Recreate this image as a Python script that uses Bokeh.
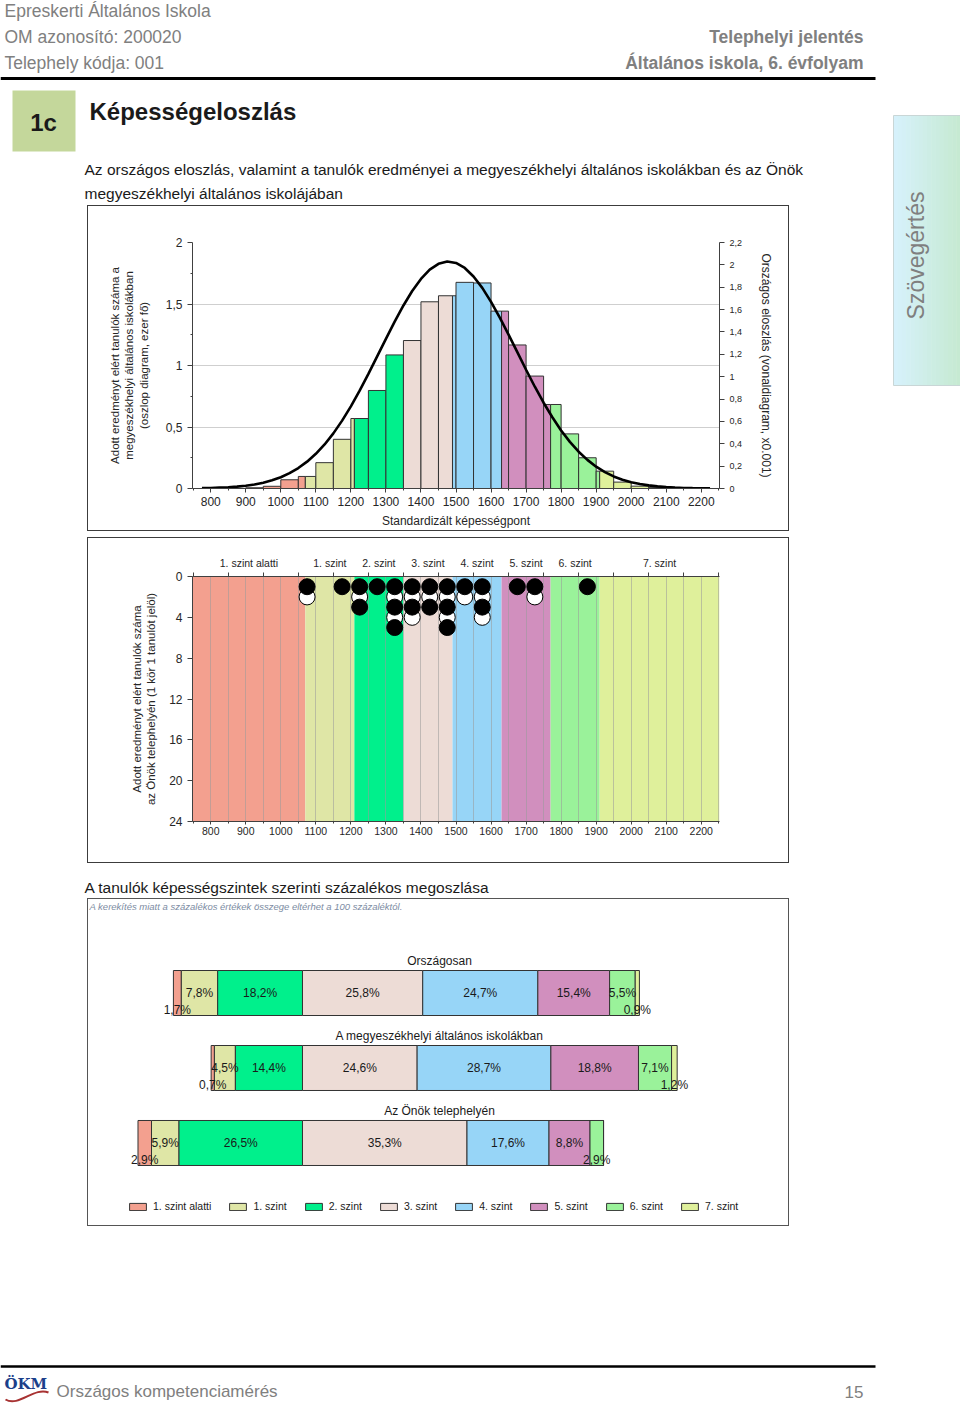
from bokeh.plotting import figure
from bokeh.layouts import row, column
from bokeh.models import (Range1d, LinearAxis, FixedTicker, CustomJSTickFormatter,
                          Spacer, Legend, LegendItem, Label)
from bokeh.core.properties import value
from bokeh.embed import file_html
from bokeh.resources import INLINE

FONT = "Liberation Sans"
INK = "#262626"
GREY_TXT = "#808080"

# ---------------- data ----------------
LEVEL_NAMES = ["1. szint alatti", "1. szint", "2. szint", "3. szint",
               "4. szint", "5. szint", "6. szint", "7. szint"]
LEVEL_COLORS = ["#F3A08F", "#DFE6A6", "#00F08C", "#EDDCD6",
                "#97D5F7", "#D18FBE", "#9AF29A", "#DFF09B"]
LEVEL_CUTS = [1070, 1210, 1350, 1490, 1630, 1770, 1910]

HIST_BIN_LEFT = [900, 950, 1000, 1050, 1100, 1150, 1200, 1250, 1300, 1350,
                 1400, 1450, 1500, 1550, 1600, 1650, 1700, 1750, 1800, 1850,
                 1900, 1950, 2000, 2050, 2100, 2150]
HIST_HEIGHT = [0.006, 0.018, 0.071, 0.098, 0.210, 0.400, 0.569, 0.797, 1.086, 1.203,
               1.518, 1.567, 1.676, 1.671, 1.442, 1.167, 0.914, 0.683, 0.444, 0.250,
               0.141, 0.052, 0.019, 0.007, 0.003, 0.001]
HIST_BIN_WIDTH = 50

CURVE_X = list(range(775, 2226, 25))
CURVE_Y = [0.003, 0.005, 0.008, 0.011, 0.017, 0.025, 0.036, 0.052, 0.073, 0.101,
           0.137, 0.183, 0.240, 0.310, 0.394, 0.493, 0.607, 0.735, 0.875, 1.025,
           1.181, 1.338, 1.492, 1.637, 1.766, 1.874, 1.957, 2.009, 2.030, 2.017,
           1.972, 1.896, 1.794, 1.669, 1.528, 1.376, 1.219, 1.062, 0.910, 0.767,
           0.637, 0.519, 0.417, 0.329, 0.256, 0.195, 0.147, 0.108, 0.079, 0.056,
           0.040, 0.028, 0.019, 0.013, 0.008, 0.005, 0.003, 0.002, 0.001]

LEFT_TICKS = [0, 0.5, 1, 1.5, 2]
RIGHT_TICKS = [0, 0.2, 0.4, 0.6, 0.8, 1.0, 1.2, 1.4, 1.6, 1.8, 2.0, 2.2]
X_TICKS = [800, 900, 1000, 1100, 1200, 1300, 1400, 1500, 1600, 1700, 1800, 1900, 2000, 2100, 2200]
X_MINOR = [750, 850, 950, 1050, 1150, 1250, 1350, 1450, 1550, 1650, 1750, 1850, 1950, 2050, 2150, 2250]

DOT_COL = [1075, 1175, 1225, 1275, 1325, 1375, 1425, 1475, 1525, 1575, 1675, 1725, 1875]
DOT_COUNT = [2, 1, 3, 1, 5, 4, 3, 5, 2, 4, 1, 2, 1]
DOT_Y_TICKS = [0, 4, 8, 12, 16, 20, 24]

GROUP_TITLES = ["Országosan", "A megyeszékhelyi általános iskolákban", "Az Önök telephelyén"]
PCT_ORSZAGOS = [1.7, 7.8, 18.2, 25.8, 24.7, 15.4, 5.5, 0.9]
PCT_MEGYE = [0.7, 4.5, 14.4, 24.6, 28.7, 18.8, 7.1, 1.2]
PCT_ONOK = [2.9, 5.9, 26.5, 35.3, 17.6, 8.8, 2.9, 0.0]

X_RANGE = (748, 2252)


# ---------------- helpers ----------------
def put_text(p, x, y, s, size, color=INK, style="normal", align="left",
             baseline="middle", angle=0, font=FONT):
    p.text(x=[x], y=[y], text=[s], text_font=value(font), text_font_size=size,
           text_font_style=style, text_color=color, text_align=align,
           text_baseline=baseline, angle=angle)


def canvas(w, h, x0, x1, y0, y1):
    p = figure(width=w, height=h, x_range=Range1d(x0, x1), y_range=Range1d(y1, y0),
               x_axis_type=None, y_axis_type=None, min_border=0,
               output_backend="svg", toolbar_location=None)
    p.outline_line_color = None
    p.xgrid.visible = False
    p.ygrid.visible = False
    return p


def style_axis(ax, size="12px"):
    ax.major_label_text_font = FONT
    ax.major_label_text_font_size = size
    ax.major_label_text_color = INK
    ax.axis_label_text_font = FONT
    ax.axis_label_text_font_style = "normal"
    ax.axis_label_text_font_size = "12px"
    ax.axis_label_text_color = INK
    ax.axis_line_color = "#404040"
    ax.major_tick_line_color = "#404040"
    ax.minor_tick_line_color = "#404040"
    ax.major_tick_in = 0
    ax.minor_tick_in = 0
    ax.major_tick_out = 4
    ax.minor_tick_out = 2


comma_fmt = CustomJSTickFormatter(code="return String(Math.round(tick*10)/10).replace('.', ',');")

# ---------------- header ----------------
ph = canvas(888, 205, 0, 888, 0, 205)
put_text(ph, 4, 10, "Epreskerti Általános Iskola", "17.5px", GREY_TXT)
put_text(ph, 4, 36, "OM azonosító: 200020", "17.5px", GREY_TXT)
put_text(ph, 4, 62, "Telephely kódja: 001", "17.5px", GREY_TXT)
put_text(ph, 863, 36, "Telephelyi jelentés", "17.5px", GREY_TXT, style="bold", align="right")
put_text(ph, 863, 62, "Általános iskola, 6. évfolyam", "17.5px", GREY_TXT, style="bold", align="right")
ph.segment(x0=[0], y0=[78], x1=[875], y1=[78], line_color="black", line_width=3)
ph.quad(left=[12], right=[75], top=[90], bottom=[151], fill_color="#C4D79B", line_color=None)
put_text(ph, 43, 122, "1c", "24px", "#1a1a1a", style="bold", align="center")
put_text(ph, 89, 111, "Képességeloszlás", "24px", "#1a1a1a", style="bold")
put_text(ph, 84, 169, "Az országos eloszlás, valamint a tanulók eredményei a megyeszékhelyi általános iskolákban és az Önök",
         "15.5px", "#1a1a1a")
put_text(ph, 84, 193, "megyeszékhelyi általános iskolájában", "15.5px", "#1a1a1a")

# ---------------- chart 1: histogram + curve ----------------
p1 = figure(width=702, height=326, x_range=Range1d(*X_RANGE), y_range=Range1d(0, 2),
            output_backend="svg", toolbar_location=None,
            min_border_left=104, min_border_right=71, min_border_top=36, min_border_bottom=44)
p1.styles = {"border": "1px solid #3c3c3c"}
p1.outline_line_color = None
p1.extra_y_ranges = {"curve": Range1d(0, 2.2)}

seg_l, seg_r, seg_t, seg_c = [], [], [], []
for a, h in zip(HIST_BIN_LEFT, HIST_HEIGHT):
    b = a + HIST_BIN_WIDTH
    edges = [a] + [c for c in LEVEL_CUTS if a < c < b] + [b]
    for l, r in zip(edges[:-1], edges[1:]):
        lvl = sum(1 for c in LEVEL_CUTS if c <= l)
        seg_l.append(l)
        seg_r.append(r)
        seg_t.append(h)
        seg_c.append(LEVEL_COLORS[lvl])
p1.quad(left=seg_l, right=seg_r, bottom=0, top=seg_t, fill_color=seg_c,
        line_color="#333333", line_width=1)
p1.line(CURVE_X, CURVE_Y, y_range_name="curve", line_color="black", line_width=2.6)

p1.xgrid.visible = False
p1.ygrid.ticker = FixedTicker(ticks=LEFT_TICKS)
p1.ygrid.grid_line_color = "#cfcfcf"

xa = p1.xaxis[0]
xa.ticker = FixedTicker(ticks=X_TICKS, minor_ticks=X_MINOR)
xa.axis_label = "Standardizált képességpont"
style_axis(xa, "12px")
xa.major_label_standoff = 4
xa.axis_label_standoff = 5

ya = p1.yaxis[0]
ya.ticker = FixedTicker(ticks=LEFT_TICKS, minor_ticks=[0.25, 0.75, 1.25, 1.75])
ya.formatter = comma_fmt
ya.axis_label = "Adott eredményt elért tanulók száma a\nmegyeszékhelyi általános iskolákban\n(oszlop diagram, ezer fő)"
style_axis(ya, "12px")
ya.axis_label_text_font_size = "11.5px"
ya.axis_label_standoff = 13
ya.major_tick_out = 5

ra = LinearAxis(y_range_name="curve", ticker=FixedTicker(ticks=RIGHT_TICKS), formatter=comma_fmt,
                axis_label="Országos eloszlás (vonaldiagram, x0.001)")
style_axis(ra, "9px")
ra.major_tick_out = 5
ra.axis_label_standoff = 14
p1.add_layout(ra, "right")

# ---------------- chart 2: dots ----------------
p2 = figure(width=702, height=326, x_range=Range1d(*X_RANGE), y_range=Range1d(24, 0),
            output_backend="svg", toolbar_location=None,
            min_border_left=104, min_border_right=71, min_border_top=38, min_border_bottom=43)
p2.styles = {"border": "1px solid #3c3c3c"}
p2.outline_line_color = None

band_edges = [X_RANGE[0]] + LEVEL_CUTS + [X_RANGE[1]]
p2.quad(left=band_edges[:-1], right=band_edges[1:], bottom=24, top=0,
        fill_color=LEVEL_COLORS, line_color=None, level="image")
p2.xgrid.ticker = FixedTicker(ticks=list(range(800, 2251, 50)))
p2.xgrid.grid_line_color = "#9a9a9a"
p2.xgrid.grid_line_alpha = 0.55
p2.ygrid.visible = False

wx, wy, bx, by = [], [], [], []
for col, n in zip(DOT_COL, DOT_COUNT):
    for k in range(1, n + 1):
        if k % 2 == 1:
            bx.append(col); by.append(k)
        else:
            wx.append(col); wy.append(k)
p2.scatter(wx, wy, size=16, fill_color="white", line_color="black", line_width=1)
p2.scatter(bx, by, size=16, fill_color="black", line_color="black", line_width=1)

xa2 = p2.xaxis[0]
xa2.ticker = FixedTicker(ticks=X_TICKS, minor_ticks=X_MINOR)
style_axis(xa2, "10.5px")
xa2.major_label_standoff = 2
xa2.major_tick_out = 3

ya2 = p2.yaxis[0]
ya2.ticker = FixedTicker(ticks=DOT_Y_TICKS)
ya2.axis_label = "Adott eredményt elért tanulók száma\naz Önök telephelyén (1 kör 1 tanulót jelöl)"
style_axis(ya2, "12px")
ya2.axis_label_text_font_size = "11.5px"
ya2.axis_label_standoff = 9
ya2.major_tick_out = 5

centers = [(lo + hi) / 2 for lo, hi in zip(band_edges[:-1], band_edges[1:])]
top_fmt = CustomJSTickFormatter(args=dict(centers=centers, names=LEVEL_NAMES), code="""
for (let i = 0; i < centers.length; i++) { if (Math.abs(centers[i] - tick) < 0.01) return names[i]; }
return "";
""")
ta = LinearAxis(ticker=FixedTicker(ticks=centers, minor_ticks=X_MINOR), formatter=top_fmt)
style_axis(ta, "10.5px")
ta.major_tick_out = 0
ta.minor_tick_out = 4
ta.major_label_standoff = 4
p2.add_layout(ta, "above")

# ---------------- text between ----------------
pt = canvas(888, 35, 0, 888, 863, 898)
put_text(pt, 84, 887, "A tanulók képességszintek szerinti százalékos megoszlása", "15.5px", "#1a1a1a")

# ---------------- chart 3: stacked bars ----------------
p3 = figure(width=702, height=328, x_range=Range1d(-45.92, 104.72), y_range=Range1d(3.1267, -1.2467),
            x_axis_type=None, y_axis_type=None, min_border=0,
            output_backend="svg", toolbar_location=None)
p3.styles = {"border": "1px solid #555555"}
p3.outline_line_color = None
p3.xgrid.visible = False
p3.ygrid.visible = False

groups = [PCT_ORSZAGOS, PCT_MEGYE, PCT_ONOK]
starts = [-sum(g[:3]) for g in groups]
lefts = [[starts[i] + sum(g[:j]) for i, g in enumerate(groups)] for j in range(8)]
rights = [[lefts[j][i] + g[j] for i, g in enumerate(groups)] for j in range(8)]
ys = [0, 1, 2]
items = []
for j in range(8):
    r = p3.hbar(y=ys, left=lefts[j], right=rights[j], height=0.6, fill_color=LEVEL_COLORS[j],
                line_color="#333333", line_width=1)
    items.append(LegendItem(label=LEVEL_NAMES[j], renderers=[r]))

lx, ly, lt = [], [], []
for j in range(8):
    for i, g in enumerate(groups):
        v = g[j]
        if v <= 0:
            continue
        lx.append((lefts[j][i] + rights[j][i]) / 2)
        ly.append(ys[i] + (0.23 if v < 4 else 0))
        lt.append(f"{v:.1f}".replace(".", ",") + "%")
p3.text(x=lx, y=ly, text=lt, text_font=value(FONT), text_font_size="12px",
        text_color="#1a1a1a", text_align="center", text_baseline="middle")

mid = (p3.x_range.start + p3.x_range.end) / 2
p3.text(x=[mid] * 3, y=[y - 0.427 for y in ys], text=GROUP_TITLES, text_font=value(FONT),
        text_font_size="12px", text_color="#1a1a1a", text_align="center", text_baseline="middle")

p3.add_layout(Label(x=1, y=321, x_units="screen", y_units="screen",
                    text="A kerekítés miatt a százalékos értékek összege eltérhet a 100 százaléktól.",
                    text_font=FONT, text_font_size="9.5px", text_font_style="italic",
                    text_color="#7d8ca3", text_baseline="middle"))

leg = Legend(items=items, orientation="horizontal", location=(39, 15),
             glyph_width=21, glyph_height=9, label_standoff=5, spacing=16,
             padding=0, margin=0, border_line_color=None, background_fill_alpha=0,
             label_text_font=FONT, label_text_font_size="10.5px", label_text_color="#1a1a1a",
             label_height=12)
p3.add_layout(leg)

# ---------------- footer ----------------
pf = canvas(888, 182, 0, 888, 1226, 1408)
pf.segment(x0=[0], y0=[1366], x1=[875], y1=[1366], line_color="black", line_width=2.5)
put_text(pf, 4, 1383, "ÖKM", "15px", "#1c3f8a", style="bold", font="DejaVu Serif")
pf.bezier(x0=[5], y0=[1399], x1=[48], y1=[1392], cx0=[18], cy0=[1407], cx1=[34], cy1=[1386],
          line_color="#a83232", line_width=2)
put_text(pf, 56, 1391, "Országos kompetenciamérés", "17px", GREY_TXT)
put_text(pf, 863, 1391, "15", "17px", GREY_TXT, align="right")

# ---------------- side tab ----------------
ps = canvas(72, 400, 888, 960, 0, 400)
n = 16
c0, c1 = (214, 241, 251), (198, 234, 210)
for k in range(n):
    t = k / (n - 1)
    col = "#%02x%02x%02x" % tuple(int(round(a + (b - a) * t)) for a, b in zip(c0, c1))
    x0 = 893 + (960 - 893) * k / n
    x1 = 893 + (960 - 893) * (k + 1) / n
    ps.quad(left=[x0], right=[x1 + 0.5], top=[115], bottom=[385], fill_color=col, line_color=None)
ps.quad(left=[893], right=[960], top=[115], bottom=[385], fill_color=None, line_color="#c9d6d6")
put_text(ps, 915, 255, "Szövegértés", "23px", "#7f7f7f", align="center", angle=3.14159265 / 2)

# ---------------- layout ----------------
left_col = column(
    ph,
    row(Spacer(width=87, height=326), p1),
    Spacer(width=10, height=6),
    row(Spacer(width=87, height=326), p2),
    pt,
    row(Spacer(width=87, height=328), p3),
    pf,
)
root = row(left_col, ps)

open("out.html", "w").write(file_html(root, INLINE))
